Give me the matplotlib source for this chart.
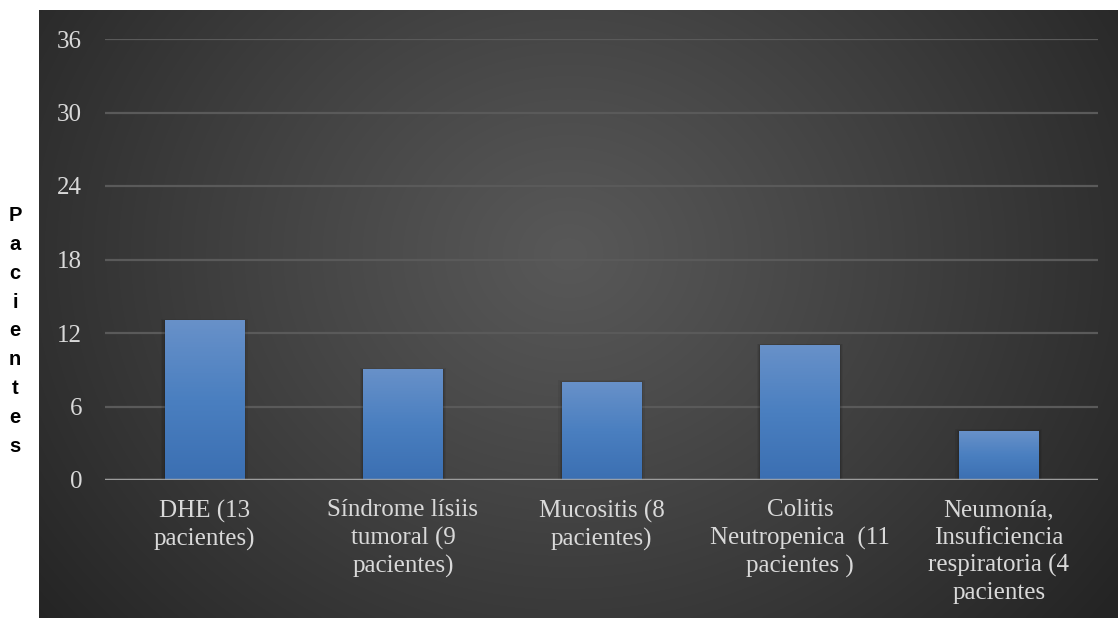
import numpy as np
import matplotlib
matplotlib.use("Agg")
import matplotlib.pyplot as plt
from matplotlib.colors import LinearSegmentedColormap

categories = [
    "DHE (13\npacientes)",
    "Síndrome lísiis\ntumoral (9\npacientes)",
    "Mucositis (8\npacientes)",
    "Colitis\nNeutropenica  (11\npacientes )",
    "Neumonía,\nInsuficiencia\nrespiratoria (4\npacientes",
]
values = [13, 9, 8, 11, 4]
y_ticks = [0, 6, 12, 18, 24, 30, 36]
y_label = "Pacientes"

W, H = 1118, 618
fig = plt.figure(figsize=(W / 100, H / 100), dpi=100, facecolor="white")

# Dark panel with a soft radial glow
panel = fig.add_axes([39 / W, 0, 1 - 39 / W, 1 - 10 / H])
panel.set_axis_off()
ny, nx = 300, 540
yy, xx = np.mgrid[0:ny, 0:nx]
cx, cy = nx * 0.49, ny * 0.40
r = np.sqrt(((xx - cx) / (nx * 0.62)) ** 2 + ((yy - cy) / (ny * 0.95)) ** 2)
r = np.clip(r, 0, 1)
shade = 0.345 - 0.20 * r ** 1.1
panel.imshow(np.dstack([shade, shade, shade]), extent=[0, 1, 0, 1],
             aspect="auto", interpolation="bilinear")
panel.set_xlim(0, 1)
panel.set_ylim(0, 1)

ax = fig.add_axes([105 / W, 1 - 480 / H, (1098 - 105) / W, (480 - 39) / H])
ax.set_facecolor("none")
for s in ax.spines.values():
    s.set_visible(False)

x = np.arange(len(categories))
bars = ax.bar(x, values, width=0.40, color="#4a7bbd", zorder=3)

# Vertical gradient fill and soft shadow for each bar
bar_cmap = LinearSegmentedColormap.from_list("barfill", ["#3b6fb2", "#4a7fc0", "#6891c9"])
grad = np.linspace(0, 1, 256).reshape(-1, 1)
for b in bars:
    x0, w, h = b.get_x(), b.get_width(), b.get_height()
    for k, a in zip([0.06, 0.035, 0.015], [0.06, 0.08, 0.10]):
        ax.add_patch(plt.Rectangle((x0 - k * 0.3, 0), w + k * 0.6, h + k * 2.2,
                                   color="black", alpha=a, lw=0, zorder=2))
    ax.imshow(grad, extent=[x0, x0 + w, 0, h], origin="lower", aspect="auto",
              cmap=bar_cmap, zorder=3.5, interpolation="bilinear")

ax.set_xlim(-0.5, len(categories) - 0.5)
ax.set_ylim(0, 36)
ax.set_yticks(y_ticks)
ax.yaxis.grid(True, color="#5a5a5a", lw=1.6, zorder=1)
ax.set_axisbelow(True)
ax.axhline(0, color="#a8a8a8", lw=2.5, alpha=0.85, zorder=5)

serif = ["Liberation Serif", "DejaVu Serif"]
ax.set_yticklabels([str(t) for t in y_ticks], family=serif, fontsize=18, color="#d9d9d9")
ax.set_xticks(x)
ax.set_xticklabels(categories, family=serif, fontsize=18, color="#d9d9d9",
                   linespacing=1.30, va="top")
ax.tick_params(axis="y", length=0, pad=16.5)
ax.tick_params(axis="x", length=0, pad=14)

fig.text(15 / W, 1 - 331 / H, "\n".join(y_label), ha="center", va="center",
         family=["Liberation Sans", "DejaVu Sans"], fontweight="bold",
         fontsize=14.5, linespacing=1.66, color="black")

fig.savefig("out.png", dpi=100, facecolor="white")
